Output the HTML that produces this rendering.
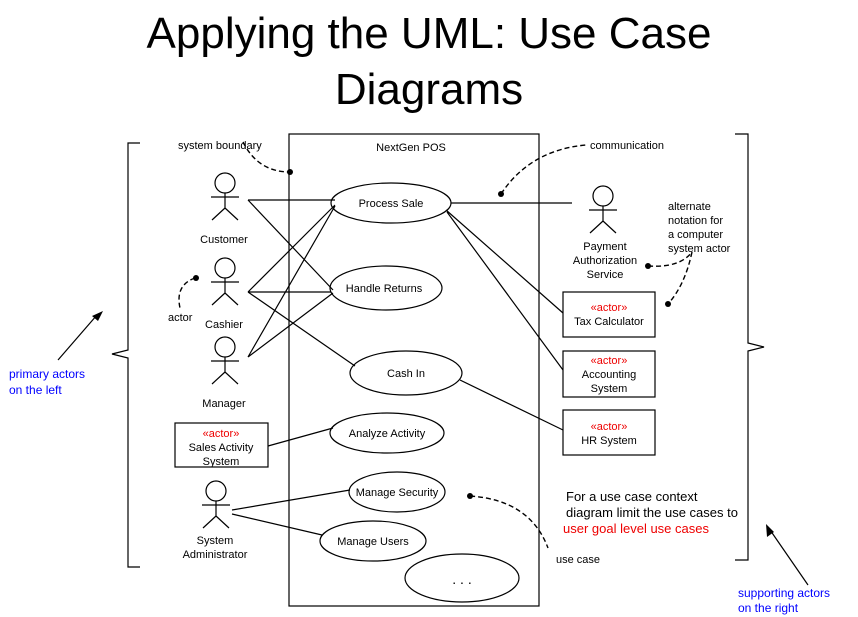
<!DOCTYPE html>
<html><head><style>body{margin:0;background:#fff}svg{display:block}</style></head><body>
<svg width="858" height="617" xmlns="http://www.w3.org/2000/svg" font-family="Liberation Sans, sans-serif">
<rect width="858" height="617" fill="#fff"/>
<text x="429" y="48" font-size="44" text-anchor="middle">Applying the UML: Use Case</text>
<text x="429" y="104" font-size="44" text-anchor="middle">Diagrams</text>
<g fill="none" stroke="#000" stroke-width="1.2">
<rect x="289" y="134" width="250" height="472"/>
<ellipse cx="391" cy="203" rx="60" ry="20"/>
<ellipse cx="386" cy="288" rx="56" ry="22"/>
<ellipse cx="406" cy="373" rx="56" ry="22"/>
<ellipse cx="387" cy="433" rx="57" ry="20"/>
<ellipse cx="397" cy="492" rx="48" ry="20"/>
<ellipse cx="373" cy="541" rx="53" ry="20"/>
<ellipse cx="462" cy="578" rx="57" ry="24"/>
<rect x="175" y="423" width="93" height="44"/>
<rect x="563" y="292" width="92" height="45"/>
<rect x="563" y="351" width="92" height="46"/>
<rect x="563" y="410" width="92" height="45"/>
<path d="M248 200H335M248 200L333 290M248 292L335 205M248 292H331M248 292L355 366M248 357L335 206M248 357L333 293M451 203H572M446 210L563 313M447 212L563 370M460 380L563 430M268 446L333 428M232 510L350 490M232 514L322 535"/>
<g id="a"><circle cx="225" cy="183" r="10"/><path d="M225 193V208M211 197H239M225 208L212 220M225 208L238 220"/></g>
<use href="#a" y="85"/><use href="#a" y="164"/><use href="#a" x="-9" y="308"/><use href="#a" x="378" y="13"/>
<path d="M140 143H128V350L112 354L128 358V567H140"/>
<path d="M735 134H748V343L764 347L748 351V560H735"/>
<g stroke-dasharray="5,3" stroke-width="1.4">
<path d="M243 142Q258 172 290 172"/>
<path d="M195 278Q175 285 180 308"/>
<path d="M501 194Q530 150 586 145"/>
<path d="M648 266Q680 268 692 252"/>
<path d="M692 252Q685 285 668 304"/>
<path d="M470 496Q530 500 548 548"/>
</g>
<path d="M768 527L808 585M97 315L58 360" stroke-width="1.2"/>
</g>
<g fill="#000">
<circle cx="290" cy="172" r="3"/><circle cx="196" cy="278" r="3"/><circle cx="501" cy="194" r="3"/>
<circle cx="648" cy="266" r="3"/><circle cx="668" cy="304" r="3"/><circle cx="470" cy="496" r="3"/>
<path d="M766 524L767 537L774 532Z"/><path d="M103 311L92 316L98 321Z"/>
</g>
<g font-size="11" text-anchor="middle">
<text x="411" y="151">NextGen POS</text>
<text x="391" y="207">Process Sale</text>
<text x="384" y="292">Handle Returns</text>
<text x="406" y="377">Cash In</text>
<text x="387" y="437">Analyze Activity</text>
<text x="397" y="496">Manage Security</text>
<text x="373" y="545">Manage Users</text>
<text x="462" y="584" font-size="14">. . .</text>
<text x="224" y="243">Customer</text>
<text x="224" y="328">Cashier</text>
<text x="224" y="407">Manager</text>
<text x="215" y="544">System</text>
<text x="215" y="558">Administrator</text>
<text x="605" y="250">Payment</text>
<text x="605" y="264">Authorization</text>
<text x="605" y="278">Service</text>
<text x="221" y="437" fill="#e00">«actor»</text><text x="221" y="451">Sales Activity</text><text x="221" y="465">System</text>
<text x="609" y="311" fill="#e00">«actor»</text><text x="609" y="325">Tax Calculator</text>
<text x="609" y="364" fill="#e00">«actor»</text><text x="609" y="378">Accounting</text><text x="609" y="392">System</text>
<text x="609" y="430" fill="#e00">«actor»</text><text x="609" y="444">HR System</text>
</g>
<g font-size="11">
<text x="178" y="149">system boundary</text>
<text x="168" y="321">actor</text>
<text x="590" y="149">communication</text>
<text x="668" y="210">alternate</text><text x="668" y="224">notation for</text><text x="668" y="238">a computer</text><text x="668" y="252">system actor</text>
<text x="556" y="563">use case</text>
</g>
<g font-size="13">
<text x="566" y="501">For a use case context</text>
<text x="566" y="517">diagram limit the use cases to</text>
<text x="563" y="533" fill="#e00">user goal level use cases</text>
</g>
<g font-size="12" fill="#00f">
<text x="9" y="378">primary actors</text><text x="9" y="394">on the left</text>
<text x="738" y="597">supporting actors</text><text x="738" y="612">on the right</text>
</g>
</svg>
</body></html>
